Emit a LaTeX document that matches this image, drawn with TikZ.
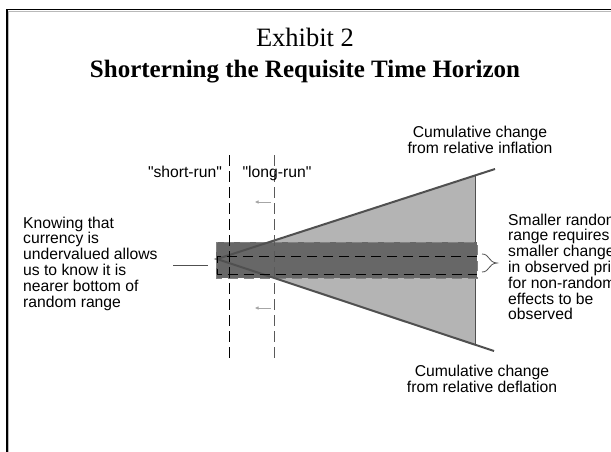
\documentclass[tikz,border=0pt]{standalone}
\usepackage{fontspec}
\setmainfont{Liberation Serif}
\newfontfamily\arial{Liberation Sans}[Ligatures=TeXOff]
\usetikzlibrary{arrows.meta}
\definecolor{conefill}{RGB}{180,180,180}
\definecolor{bandfill}{RGB}{103,103,103}
\definecolor{coneline}{RGB}{80,80,80}
\definecolor{bandedge}{RGB}{130,130,130}
\begin{document}
\begin{tikzpicture}[x=1pt,y=-1pt,
  lab/.style={font=\arial\fontsize{15.7}{15.8}\selectfont, inner sep=0pt},
  vdash/.style={line width=1pt, dash pattern=on 11pt off 5pt},
  idash/.style={black, line width=1pt, dash pattern=on 10pt off 6pt},
  smallarrow/.style={gray!70, line width=0.8pt, -{Triangle[length=3.5pt,width=3pt]}},
  thinline/.style={coneline, line width=0.9pt}]
\useasboundingbox (0,0) rectangle (611,451);
\clip (0,0) rectangle (611,451);
\fill[white] (0,0) rectangle (611,451);
% frame
\draw[black, line width=1.5pt] (7,470) -- (7,9.5) -- (630,9.5);
\draw[gray!55, line width=1pt] (8.8,470) -- (8.8,11.3) -- (630,11.3);
% titles
\node[font=\fontsize{26.5}{30}\selectfont, anchor=base, inner sep=0pt] (exhibit) at (305,46) {Exhibit 2};
\node[font=\fontsize{25}{30}\selectfont\bfseries, anchor=base, inner sep=0pt] (title) at (305,77) {Shorterning the Requisite Time Horizon};
% geometry
\coordinate (apex) at (217,259);
\coordinate (upend) at (495,169);
\coordinate (loend) at (494,351);
\coordinate (uprt) at (475,175.5);
\coordinate (lort) at (475,344.7);
\fill[conefill] (apex) -- (uprt) -- (lort) -- cycle;
\draw[thinline] (uprt) -- (lort);
% band
\fill[bandfill] (216,242) rectangle (477,278);
\draw[bandedge, line width=0.8pt, dash pattern=on 10pt off 6pt] (216,242) rectangle (477,278);
% cone lines
\draw[coneline, line width=2pt] (upend) -- (apex) -- (loend);
% inner dashed band
\draw[idash] (477,256.5) -- (217,256.5) -- (217,274) -- (477,274);
% vertical dashed lines
\coordinate (s1) at (229,155); \coordinate (s2) at (229,360);
\coordinate (l1) at (274,155); \coordinate (l2) at (274,360);
\draw[vdash, black] (s1) -- (s2);
\draw[vdash, black!65] (l1) -- (l2);
% small arrows
\coordinate (a1s) at (271,202); \coordinate (a1e) at (255,202);
\coordinate (a2s) at (271,308); \coordinate (a2e) at (255,308);
\draw[smallarrow] (a1s) -- (a1e);
\draw[smallarrow] (a2s) -- (a2e);
% labels
\node[lab, anchor=base] (short) at (185,177) {"short-run"};
\node[lab, anchor=base] (long) at (277,177) {"long-run"};
\node[lab, align=center] (infl) at (480,140) {Cumulative change\\from relative inflation};
\node[lab, align=center] (defl) at (482,379) {Cumulative change\\from relative deflation};
\node[lab, align=left, anchor=north west] (know) at (23,216.5) {Knowing that\\currency is\\undervalued allows\\us to know it is\\nearer bottom of\\random range};
\node[lab, align=left, anchor=north west] (small) at (508,213.5) {Smaller random\\range requires\\smaller change\\in observed price\\for non-random\\effects to be\\observed};
% connectors
\coordinate (kl) at (173,265);
\coordinate (bandw) at (208,265);
\draw[thinline] (kl) -- (bandw);
\coordinate (b1) at (482,254); \coordinate (btip) at (497,263); \coordinate (b2) at (482,272);
\draw[thinline, line width=0.8pt] (b1) .. controls (490,254) and (488,262.5) .. (btip) .. controls (488,263.5) and (490,272) .. (b2);
\end{tikzpicture}
\end{document}
